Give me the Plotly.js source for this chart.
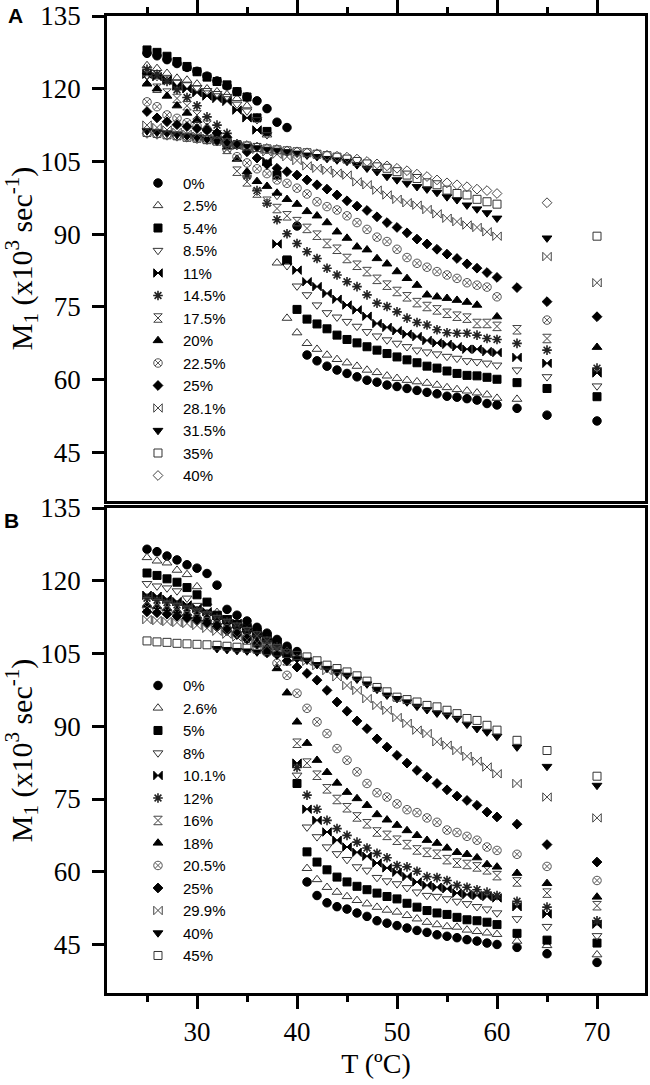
<!DOCTYPE html>
<html><head><meta charset="utf-8">
<script src="https://cdn.plot.ly/plotly-3.0.1.min.js"></script>
<style>html,body{margin:0;padding:0;background:#fff}</style>
</head><body>
<div id="chart" style="width:650px;height:1085px"></div>
<script>
// Temperatures (°C) shared by every series
const temps = [25,26,27,28,29,30,31,32,33,34,35,36,37,38,39,40,41,42,43,44,45,46,47,48,49,50,51,52,53,54,55,56,57,58,59,60,62,65,70];

// Panel A series (M1, x10^3 s^-1)
const labelsA = ['0%','2.5%','5.4%','8.5%','11%','14.5%','17.5%','20%','22.5%','25%','28.1%','31.5%','35%','40%'];
const A_0   = [127.3,126.8,126.0,125.2,124.4,123.6,122.6,121.6,120.6,119.4,118.3,117.5,115.9,113.1,112.0,91.7,65.1,63.9,62.8,62.0,61.3,60.6,59.9,59.5,58.9,58.6,58.2,57.8,57.4,57.1,56.6,56.4,56.1,55.8,55.1,54.8,54.1,52.7,51.5];
const A_2_5 = [124.8,124.2,123.2,122.2,121.8,121.0,120.0,119.4,118.8,118.0,116.5,114.0,110.5,84.1,72.7,69.7,67.5,66.3,65.1,64.2,63.5,62.8,62.0,61.5,60.8,60.3,59.9,59.6,59.3,58.9,58.4,58.0,57.7,57.3,56.9,56.2,56.0,null,null];
const A_5_4 = [128.0,127.5,126.7,125.6,124.6,123.5,122.4,121.5,120.8,119.4,118.3,114.0,111.2,102.2,84.7,74.5,72.5,71.5,70.5,69.2,68.3,67.6,66.8,66.1,65.4,64.7,64.1,63.5,62.8,62.4,61.8,61.3,60.9,60.8,60.5,60.1,59.4,58.2,56.5];
const A_8_5 = [122.8,122.5,122.0,121.4,120.8,120.2,119.6,119.0,118.4,116.8,115.4,113.6,110.5,98.0,83.5,79.3,77.5,75.4,73.8,72.9,72.0,71.0,69.9,69.0,68.2,67.5,66.8,66.1,65.7,65.3,64.8,64.4,63.9,63.7,63.4,63.0,62.0,60.6,58.7];
const A_11  = [123.0,122.5,121.8,120.6,120.0,119.2,118.5,118.0,117.4,115.6,114.0,111.5,105.0,88.0,84.5,82.6,80.2,79.2,77.8,76.6,75.4,74.4,73.1,71.6,70.8,70.1,69.4,68.9,68.1,67.6,67.3,66.8,66.3,66.3,65.8,65.6,64.6,63.4,61.4];
const A_14_5= [124.0,123.0,121.5,119.8,118.2,116.5,114.2,112.5,110.8,108.5,102.0,99.0,96.4,93.0,90.1,88.1,86.4,85.0,83.0,81.6,80.2,79.2,77.5,75.8,75.1,74.0,72.7,71.8,71.3,70.3,69.7,69.6,69.6,69.2,68.5,68.3,67.5,66.1,62.4];
const A_17_5= [121.8,120.1,119.1,118.0,116.5,114.6,112.5,110.5,107.5,103.0,100.8,98.5,96.8,95.3,93.8,92.6,91.2,89.8,88.1,86.9,85.0,83.6,82.3,80.7,79.5,78.2,77.1,75.9,75.1,74.4,73.7,73.1,72.7,71.6,71.6,71.0,70.3,68.5,null];
const A_20  = [121.0,120.0,118.5,116.5,115.0,113.5,112.0,110.3,108.0,105.5,102.9,100.9,99.9,98.5,97.2,96.2,94.7,93.8,92.4,90.5,89.2,87.4,86.8,85.0,83.9,82.3,80.9,79.5,77.5,77.1,76.8,76.4,76.0,75.4,null,73.0,null,null,66.7];
const A_22_5= [117.3,116.3,114.6,113.9,113.0,112.3,111.6,110.5,107.5,106.0,104.7,103.5,102.5,101.2,100.5,99.5,98.3,96.7,95.7,95.0,93.8,92.4,91.0,89.4,88.5,86.9,85.2,84.0,83.2,82.3,81.6,80.9,80.0,79.5,79.1,77.1,null,72.3,null];
const A_25  = [115.3,114.0,113.2,112.6,112.2,111.8,111.4,110.9,110.0,108.5,107.0,105.7,104.4,103.6,102.9,102.2,101.2,100.2,99.3,98.1,96.9,95.8,94.9,93.6,92.4,91.4,90.3,89.0,88.0,86.9,85.9,85.0,83.9,83.0,82.1,81.1,79.0,76.1,73.0];
const A_28_1= [112.5,112.0,111.5,111.0,110.6,110.2,109.8,109.4,108.9,108.3,107.9,107.5,107.0,106.5,106.0,105.2,104.1,103.6,103.2,102.6,102.2,100.8,100.2,99.1,98.1,97.2,96.5,96.0,95.1,94.2,93.3,92.6,91.9,91.4,90.5,89.6,null,85.4,80.0];
const A_31_5= [111.3,111.0,110.8,110.5,110.2,109.9,109.6,109.2,108.8,108.4,108.1,107.8,107.5,107.3,107.0,106.7,106.3,106.0,105.6,105.3,105.0,104.3,103.6,102.9,101.9,101.2,100.5,99.8,99.3,98.6,97.7,97.1,96.0,95.2,94.4,93.3,null,89.2,null];
const A_35  = [111.0,110.8,110.5,110.3,110.0,109.8,109.5,109.2,108.9,108.5,108.2,107.9,107.6,107.4,107.2,107.0,106.8,106.5,106.2,105.9,105.5,105.0,104.5,103.9,103.6,102.9,102.2,101.5,100.6,100.2,99.1,98.4,98.1,97.2,96.7,96.2,null,null,89.6];
const A_40  = [110.8,110.6,110.4,110.2,110.0,109.7,109.5,109.2,108.9,108.6,108.3,108.0,107.7,107.5,107.2,107.0,106.8,106.6,106.3,106.1,105.9,105.5,105.0,104.5,104.1,103.6,103.1,102.4,101.9,101.2,100.6,100.2,99.8,99.3,99.0,98.4,null,96.5,null];
const seriesA = [A_0,A_2_5,A_5_4,A_8_5,A_11,A_14_5,A_17_5,A_20,A_22_5,A_25,A_28_1,A_31_5,A_35,A_40];

// Panel B series
const labelsB = ['0%','2.6%','5%','8%','10.1%','12%','16%','18%','20.5%','25%','29.9%','40%','45%'];
const B_0   = [126.5,126.0,125.1,124.3,123.3,122.6,121.5,119.1,114.1,112.9,111.7,110.4,109.2,107.9,106.5,105.4,57.9,55.1,53.6,52.8,52.3,51.5,50.8,49.9,49.4,48.9,48.4,47.9,47.5,47.0,46.7,46.4,46.0,45.7,45.3,45.0,44.4,43.1,41.3];
const B_2_6 = [124.8,124.1,123.7,122.2,121.3,118.8,115.5,113.5,112.0,111.0,110.0,109.0,108.0,106.8,105.5,104.0,60.7,58.4,56.8,55.8,54.9,54.1,53.4,52.7,52.1,51.7,51.0,50.3,49.6,49.1,48.7,48.6,48.0,47.7,47.4,47.1,45.7,44.8,42.9];
const B_5   = [121.6,121.1,120.4,119.7,118.6,117.1,115.6,112.9,112.0,111.0,110.0,109.0,108.0,107.0,105.0,78.2,64.1,62.0,60.4,58.9,57.9,57.0,56.3,55.6,54.9,54.4,53.5,52.7,52.0,51.5,51.2,50.6,50.1,49.9,49.6,49.1,47.3,45.9,45.3];
const B_8   = [119.4,118.9,118.5,117.9,116.4,114.9,113.5,112.5,111.5,110.5,109.5,108.5,107.5,106.3,104.5,79.9,69.2,67.2,65.1,63.7,62.5,61.0,60.3,58.8,58.1,57.5,56.7,55.8,55.1,54.9,54.4,53.9,53.4,52.8,52.3,51.5,50.3,48.7,46.8];
const B_10_1= [117.0,116.8,116.2,115.7,115.0,114.3,113.6,112.8,112.0,111.2,110.3,109.4,108.4,107.2,105.5,82.4,72.9,70.6,68.2,66.5,65.1,64.0,63.2,61.8,60.8,59.9,59.0,57.9,57.2,56.8,56.5,55.6,55.3,55.1,54.9,54.6,52.8,51.3,49.2];
const B_12  = [116.4,116.0,115.5,115.0,114.4,113.8,113.1,112.3,111.5,110.6,109.7,108.7,107.6,106.4,104.8,81.5,75.8,72.9,70.6,68.9,67.5,66.1,64.9,63.8,62.9,61.3,61.0,60.1,59.0,58.8,58.2,57.2,56.8,56.3,55.8,55.1,53.9,52.7,49.9];
const B_16  = [115.7,115.3,114.9,114.4,113.9,113.3,112.7,112.0,111.2,110.4,109.5,108.6,107.5,106.0,103.5,86.5,82.4,79.9,77.1,74.9,73.2,71.3,69.9,68.2,67.5,66.5,65.6,64.5,64.0,63.6,62.5,61.8,61.5,61.0,60.4,59.2,57.9,55.6,53.0];
const B_18  = [115.0,114.7,114.3,113.8,113.3,112.7,112.1,111.4,110.6,109.7,108.7,107.4,105.5,101.9,96.9,90.9,86.5,83.0,80.5,78.3,76.4,75.1,73.7,71.8,70.7,69.6,68.5,67.5,66.5,65.9,64.9,64.0,63.6,62.9,61.5,61.0,59.7,57.6,54.8];
const B_20_5= [114.6,114.2,113.8,113.3,112.8,112.2,111.6,110.9,110.1,109.2,108.2,106.9,105.2,103.0,100.5,96.8,93.7,90.9,88.5,85.4,83.0,80.6,78.2,76.3,75.4,74.0,72.8,72.2,71.1,70.2,68.6,68.1,67.3,66.5,65.1,64.4,63.6,61.1,58.2];
const B_25  = [113.6,113.4,113.1,112.7,112.3,111.8,111.2,110.5,109.7,108.9,108.0,107.0,105.9,104.8,103.5,102.2,100.9,99.5,97.4,95.0,93.1,91.1,89.5,87.4,85.7,84.0,82.4,80.9,79.5,78.2,76.9,75.6,74.7,73.7,72.3,71.3,69.8,65.6,62.0];
const B_29_9= [112.0,111.8,111.6,111.4,111.2,110.8,110.2,109.6,109.0,108.4,107.8,107.2,106.5,105.8,105.0,104.2,103.4,102.5,101.5,100.2,98.4,97.4,95.7,94.3,93.3,91.8,90.6,89.2,88.5,86.8,86.1,85.0,83.8,82.8,81.6,80.2,78.2,75.4,71.1];
const B_40  = [null,null,null,null,null,null,null,106.0,105.8,105.6,105.5,105.3,105.0,104.7,104.3,103.9,103.6,102.7,101.9,101.2,100.5,99.7,98.7,97.6,96.4,95.7,95.0,94.1,93.4,92.7,92.3,91.6,90.4,89.5,88.8,87.9,85.7,81.7,77.8];
const B_45  = [107.6,107.4,107.3,107.1,107.0,106.9,106.8,106.7,106.5,106.3,106.1,105.9,105.6,105.3,105.0,104.6,104.3,103.5,102.6,101.9,101.2,100.4,99.3,98.0,97.1,96.0,95.5,95.0,94.3,94.0,93.3,92.6,91.6,91.2,90.2,89.2,87.1,85.0,79.7];
const seriesB = [B_0,B_2_6,B_5,B_8,B_10_1,B_12,B_16,B_18,B_20_5,B_25,B_29_9,B_40,B_45];

// Marker styles (shared order)
const symbols = ['circle','triangle-up-open','square','triangle-down-open','bowtie','asterisk-open','hourglass-open','triangle-up','circle-x-open','diamond','bowtie-open','triangle-down','square-open','diamond-open'];
const colors  = ['#000','#333','#000','#333','#000','#222','#444','#000','#555','#000','#444','#000','#333','#444'];
const sizes   = [8.5,8.5,8,8.5,8.5,8,8.5,8.5,8.5,7.5,8.5,8.5,8,7.5];
const lineW   = [1,1,1,1,1,1.6,1,1,1,1,1,1,1,1];

const serif = 'Liberation Serif, Times New Roman, serif';
const sans = 'Liberation Sans, Arial, sans-serif';

const traces = [];
seriesA.forEach((ys, i) => traces.push({
  type: 'scatter', mode: 'markers', x: temps, y: ys, name: labelsA[i],
  xaxis: 'x2', yaxis: 'y2', legend: 'legend',
  marker: {symbol: symbols[i], size: sizes[i], color: colors[i], line: {color: colors[i], width: lineW[i]}},
  hoverinfo: 'x+y+name'
}));
seriesB.forEach((ys, i) => traces.push({
  type: 'scatter', mode: 'markers', x: temps, y: ys, name: labelsB[i],
  xaxis: 'x', yaxis: 'y', legend: 'legend2',
  marker: {symbol: symbols[i], size: sizes[i], color: colors[i], line: {color: colors[i], width: lineW[i]}},
  hoverinfo: 'x+y+name'
}));

const tickFont = {family: serif, size: 27, color: '#000'};
const xBase = {
  range: [21, 74.8], showgrid: false, zeroline: false,
  showline: true, linecolor: '#000', linewidth: 2.5, mirror: true,
  ticks: 'outside', ticklen: 13, tickwidth: 2.5, tickcolor: '#000',
  tick0: 0, dtick: 10,
  minor: {tick0: 0, dtick: 5, ticks: 'outside', ticklen: 6, tickwidth: 2.5, tickcolor: '#000', showgrid: false},
  tickfont: tickFont
};
const yTitle = {text: 'M<sub>1</sub> (x10<sup>3</sup> sec<sup>-1</sup>)', font: {family: serif, size: 30, color: '#000'}, standoff: 2};
const yBase = {
  range: [35, 135], showgrid: false, zeroline: false,
  showline: true, linecolor: '#000', linewidth: 2.5, mirror: true,
  ticks: 'outside', ticklen: 12, tickwidth: 2.5, tickcolor: '#000',
  tick0: 0, dtick: 15, tickfont: tickFont, ticklabelstandoff: 6,
  title: yTitle
};
const legendBase = {
  xanchor: 'left', yanchor: 'top', bgcolor: 'rgba(0,0,0,0)', borderwidth: 0,
  font: {family: sans, size: 15, color: '#000'}, itemwidth: 40, tracegroupgap: 0,
  itemclick: false, itemdoubleclick: false
};

const layout = {
  width: 650, height: 1085,
  margin: {l: 107, r: 5, t: 16, b: 92, pad: 0},
  paper_bgcolor: '#fff', plot_bgcolor: '#fff',
  showlegend: true,
  xaxis: Object.assign({}, xBase, {anchor: 'y', side: 'bottom', ticklabelstandoff: 0,
    title: {text: 'T (ºC)', font: {family: serif, size: 28, color: '#000'}, standoff: 8}}),
  xaxis2: Object.assign({}, xBase, {anchor: 'y2', side: 'top', matches: 'x', showticklabels: false}),
  yaxis: Object.assign({}, yBase, {anchor: 'x', domain: [0, 0.4964]}),
  yaxis2: Object.assign({}, yBase, {anchor: 'x2', domain: [0.5036, 1]}),
  legend: Object.assign({}, legendBase, {x: 0.0483, y: 0.8457}),
  legend2: Object.assign({}, legendBase, {x: 0.0483, y: 0.3314}),
  annotations: [
    {text: '<b>A</b>', xref: 'paper', yref: 'paper', x: -0.171, y: 1.001, xanchor: 'center', yanchor: 'middle', showarrow: false, font: {family: sans, size: 21, color: '#000'}},
    {text: '<b>B</b>', xref: 'paper', yref: 'paper', x: -0.178, y: 0.4841, xanchor: 'center', yanchor: 'middle', showarrow: false, font: {family: sans, size: 21, color: '#000'}}
  ]
};

Plotly.newPlot('chart', traces, layout, {displayModeBar: false});
</script>
</body></html>
